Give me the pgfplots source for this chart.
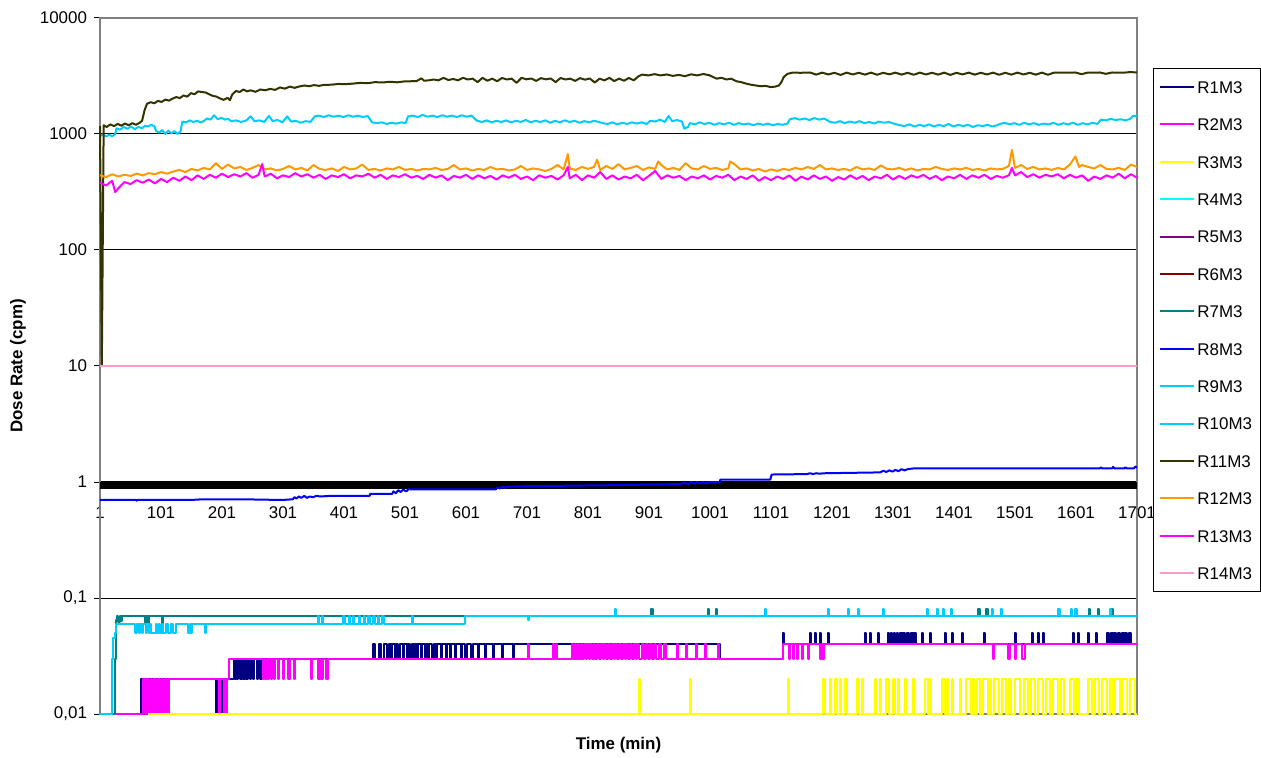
\documentclass[border=0pt]{standalone}
\usepackage{pgfplots}
\pgfplotsset{compat=1.18}
\usepackage{fontspec}
\setmainfont{Liberation Sans}

\definecolor{r1}{HTML}{000080}
\definecolor{r2}{HTML}{FF00FF}
\definecolor{r3}{HTML}{FFFF00}
\definecolor{r4}{HTML}{00FFFF}
\definecolor{r5}{HTML}{800080}
\definecolor{r6}{HTML}{800000}
\definecolor{r7}{HTML}{008080}
\definecolor{r8}{HTML}{0000FF}
\definecolor{r9}{HTML}{00CCFF}
\definecolor{r10}{HTML}{00CCFF}
\definecolor{r11}{HTML}{333300}
\definecolor{r12}{HTML}{FF9900}
\definecolor{r13}{HTML}{FF00FF}
\definecolor{r14}{HTML}{FF99CC}

\begin{document}
\begin{tikzpicture}
\path[use as bounding box] (-50bp,-22bp) rectangle (580.5bp,357bp);
\begin{axis}[
  at={(0,0)}, anchor=south west,
  scale only axis, width=518.5bp, height=348bp,
  ymode=log,
  xmin=1, xmax=1701, ymin=0.01, ymax=10000,
  clip=false,
  axis x line=middle, axis y line=left,
  axis line style={-, black, line width=0.8bp},
  hide obscured x ticks=false, hide obscured y ticks=false,
  xtick={1,101,201,301,401,501,601,701,801,901,1001,1101,1201,1301,1401,1501,1601,1701},
  xticklabels={1,101,201,301,401,501,601,701,801,901,1001,1101,1201,1301,1401,1501,1601,1701},
  xtick style={draw=none},
  xticklabel style={yshift=-6bp},
  ytick={0.01,0.1,1,10,100,1000,10000},
  yticklabels={{0,01},{0,1},1,10,100,1000,10000},
  yminorticks=false,
  tick align=outside, major tick length=3bp,
  ytick style={black, line width=0.5bp},
  tick label style={font=\fontsize{8.5}{10}\selectfont},
  ymajorgrids, major grid style={black, line width=0.5bp},
  xlabel={Time (min)}, ylabel={Dose Rate (cpm)},
  xlabel style={at={(axis description cs:0.5,-0.0445)}, anchor=center, font=\bfseries\fontsize{8.5}{10}\selectfont},
  ylabel style={at={(axis description cs:-0.079,0.5)}, anchor=center, font=\bfseries\fontsize{8.5}{10}\selectfont},
  every axis plot/.append style={line width=1bp, line join=round},
  legend image code/.code={\draw[#1, line width=1bp] (0bp,0bp) -- (17bp,0bp);},
  legend style={at={(1.0154,0.928)}, anchor=north west, draw=black, line width=0.5bp,
    font=\fontsize{8.5}{10}\selectfont, row sep=10.4bp, inner xsep=3bp, inner ysep=5bp,
    cells={anchor=west}, nodes={inner sep=1bp, text height=6.3bp, text depth=0pt}},
  legend entries={R1M3,R2M3,R3M3,R4M3,R5M3,R6M3,R7M3,R8M3,R9M3,R10M3,R11M3,R12M3,R13M3,R14M3},
]
\draw[gray, line width=0.6bp] (rel axis cs:0,0) rectangle (rel axis cs:1,1);
\fill[black] (axis cs:1,1) rectangle (axis cs:1701,0.87);

% R1M3
\addplot[r1, const plot] coordinates {
(1,0.01)(68,0.01)(69,0.02)(70,0.01)(71,0.02)(73,0.01)(74,0.02)(76,0.01)(77,0.02)
(190,0.02)(191,0.01)(193,0.02)(195,0.01)(196,0.02)(198,0.01)(200,0.02)(202,0.01)(203,0.02)
(219,0.02)(220,0.03)(222,0.02)(224,0.03)(226,0.02)(228,0.03)(231,0.02)(233,0.03)(236,0.02)(238,0.03)(241,0.02)(243,0.03)(247,0.02)(249,0.03)(252,0.02)(254,0.03)(258,0.02)(260,0.03)(264,0.02)(266,0.03)
(448,0.03)(449,0.04)(451,0.03)(458,0.03)(459,0.04)(461,0.03)(466,0.04)(470,0.04)(471,0.03)(474,0.04)(478,0.03)(480,0.04)(484,0.03)(486,0.04)(490,0.03)(492,0.04)(497,0.03)(499,0.04)(504,0.03)(506,0.04)(510,0.03)(512,0.04)(516,0.03)(518,0.04)(521,0.03)(523,0.04)(527,0.03)(529,0.04)(533,0.03)(535,0.04)(539,0.03)(541,0.04)(546,0.03)(548,0.04)(552,0.03)(554,0.04)(560,0.03)(562,0.04)(568,0.03)(570,0.04)(575,0.03)(577,0.04)(583,0.03)(585,0.04)(592,0.03)(594,0.04)(600,0.03)(602,0.04)(610,0.03)(612,0.04)(620,0.03)(622,0.04)(632,0.03)(634,0.04)(645,0.03)(647,0.04)(660,0.03)(662,0.04)(678,0.03)(680,0.04)(690,0.04)
(1016,0.04)(1018,0.03)(1119,0.03)(1121,0.05)(1123,0.04)
(1163,0.04)(1165,0.05)(1167,0.04)(1171,0.04)(1173,0.05)(1175,0.04)(1179,0.04)(1181,0.05)(1183,0.04)(1192,0.04)(1194,0.05)(1196,0.04)(1253,0.04)(1255,0.05)(1257,0.04)(1261,0.04)(1263,0.05)(1265,0.04)(1274,0.04)(1276,0.05)(1278,0.04)
(1291,0.04)(1293,0.05)(1295,0.04)(1297,0.05)(1299,0.04)(1302,0.05)(1304,0.04)(1307,0.05)(1310,0.04)(1313,0.05)(1315,0.04)(1318,0.05)(1321,0.04)(1324,0.05)(1327,0.04)(1330,0.05)(1333,0.04)(1336,0.05)(1339,0.04)
(1346,0.04)(1348,0.05)(1350,0.04)(1359,0.04)(1361,0.05)(1363,0.04)(1384,0.04)(1386,0.05)(1388,0.04)(1395,0.04)(1397,0.05)(1399,0.04)(1412,0.04)(1414,0.05)(1416,0.04)(1448,0.04)(1450,0.05)(1452,0.04)(1499,0.04)(1501,0.05)(1503,0.04)(1527,0.04)(1529,0.05)(1531,0.04)(1537,0.04)(1539,0.05)(1541,0.04)(1545,0.04)(1547,0.05)(1549,0.04)(1594,0.04)(1596,0.05)(1598,0.04)(1602,0.04)(1604,0.05)(1606,0.04)(1619,0.04)(1621,0.05)(1623,0.04)(1632,0.04)(1634,0.05)(1636,0.04)
(1650,0.04)(1652,0.05)(1655,0.04)(1658,0.05)(1661,0.04)(1664,0.05)(1667,0.04)(1670,0.05)(1673,0.04)(1676,0.05)(1679,0.04)(1682,0.05)(1685,0.04)(1688,0.05)(1691,0.04)(1701,0.04)
};
% R2M3
\addplot[r2, const plot] coordinates {
(1,0.01)(71,0.01)(72,0.02)(74,0.01)(76,0.02)(78,0.01)(80,0.02)(82,0.01)(85,0.02)(87,0.01)(90,0.02)(93,0.01)(96,0.02)(99,0.01)(102,0.02)(105,0.01)(108,0.02)(111,0.01)(114,0.02)(116,0.02)
(195,0.02)(196,0.01)(198,0.02)(203,0.02)(204,0.01)(206,0.02)(208,0.01)(210,0.02)(212,0.03)
(267,0.03)(268,0.02)(270,0.03)(272,0.02)(274,0.03)(276,0.02)(278,0.03)(281,0.02)(283,0.03)(286,0.02)(288,0.03)(292,0.02)(294,0.03)(300,0.03)(301,0.02)(303,0.03)(309,0.03)(310,0.02)(312,0.03)(318,0.03)(319,0.02)(321,0.03)(346,0.03)(347,0.02)(349,0.03)(358,0.03)(359,0.02)(361,0.03)(364,0.02)(366,0.03)(372,0.02)(374,0.03)
(702,0.03)(703,0.04)(705,0.03)(742,0.03)(743,0.04)(745,0.03)(748,0.04)(750,0.03)
(775,0.04)(777,0.03)(779,0.04)(781,0.03)(784,0.04)(786,0.03)(789,0.04)(791,0.03)(794,0.04)(797,0.03)(800,0.04)(802,0.03)(805,0.04)(808,0.03)(811,0.04)(813,0.03)(816,0.04)(819,0.03)(822,0.04)(825,0.03)(828,0.04)(831,0.03)(834,0.04)(837,0.03)(840,0.04)(843,0.03)(846,0.04)(849,0.03)(852,0.04)(855,0.03)(858,0.04)(861,0.03)(864,0.04)(867,0.03)(870,0.04)(873,0.03)(876,0.04)(879,0.03)(882,0.04)(885,0.03)(889,0.04)(892,0.03)(896,0.04)(899,0.03)(903,0.04)(906,0.03)(910,0.04)(913,0.03)(918,0.04)(921,0.03)(926,0.04)(929,0.03)
(946,0.03)(947,0.04)(949,0.03)(960,0.03)(961,0.04)(963,0.03)(977,0.03)(978,0.04)(980,0.03)(991,0.03)(992,0.04)(994,0.03)(1013,0.03)(1014,0.04)(1016,0.03)
(1119,0.03)(1121,0.04)(1129,0.04)(1130,0.03)(1132,0.04)(1136,0.04)(1137,0.03)(1139,0.04)(1143,0.04)(1144,0.03)(1146,0.04)(1151,0.04)(1152,0.03)(1154,0.04)(1160,0.04)(1161,0.03)(1163,0.04)(1181,0.04)(1182,0.03)(1184,0.04)(1186,0.03)(1188,0.04)
(1464,0.04)(1465,0.03)(1467,0.04)(1489,0.04)(1490,0.03)(1492,0.04)(1500,0.04)(1501,0.03)(1503,0.04)(1511,0.04)(1512,0.03)(1516,0.03)(1517,0.04)(1701,0.04)
};
% R3M3
\addplot[r3, const plot] coordinates {
(80,0.01)(884,0.01)(885,0.02)(887,0.01)(967,0.01)(968,0.02)(970,0.01)(1128,0.01)(1129,0.02)(1131,0.01)
(1185,0.01)(1186,0.02)(1189,0.02)(1190,0.01)(1197,0.01)(1198,0.02)(1200,0.01)(1205,0.01)(1206,0.02)(1209,0.02)(1210,0.01)(1213,0.01)(1214,0.02)(1216,0.01)(1221,0.01)(1222,0.02)(1225,0.02)(1226,0.01)(1241,0.01)(1242,0.02)(1245,0.02)(1246,0.01)(1249,0.01)(1250,0.02)(1252,0.01)(1270,0.01)(1271,0.02)(1273,0.01)(1279,0.01)(1280,0.02)(1282,0.01)(1289,0.01)(1290,0.02)(1294,0.02)(1295,0.01)(1300,0.01)(1301,0.02)(1304,0.02)(1305,0.01)(1308,0.01)(1309,0.02)(1311,0.01)(1319,0.01)(1320,0.02)(1322,0.01)(1333,0.01)(1334,0.02)(1336,0.01)(1352,0.01)(1353,0.02)(1358,0.02)(1359,0.01)(1361,0.01)(1362,0.02)(1364,0.01)(1380,0.01)(1381,0.02)(1385,0.02)(1386,0.01)(1388,0.01)(1389,0.02)(1391,0.01)(1397,0.01)(1398,0.02)(1400,0.01)(1410,0.01)(1411,0.02)(1413,0.01)(1420,0.01)(1421,0.02)(1428,0.02)(1429,0.01)(1431,0.01)(1432,0.02)(1434,0.01)(1437,0.01)(1438,0.02)(1442,0.02)(1443,0.01)(1447,0.01)(1448,0.02)(1455,0.02)(1456,0.01)(1459,0.01)(1460,0.02)(1462,0.01)(1466,0.01)(1467,0.02)(1474,0.02)(1475,0.01)(1479,0.01)(1480,0.02)(1486,0.02)(1487,0.01)(1490,0.01)(1491,0.02)(1494,0.02)(1495,0.01)(1500,0.01)(1501,0.02)(1508,0.02)(1509,0.01)(1514,0.01)(1515,0.02)(1522,0.02)(1523,0.01)(1526,0.01)(1527,0.02)(1533,0.02)(1534,0.01)(1538,0.01)(1539,0.02)(1546,0.02)(1547,0.01)(1551,0.01)(1552,0.02)(1557,0.02)(1558,0.01)(1563,0.01)(1564,0.02)(1570,0.02)(1571,0.01)(1576,0.01)(1577,0.02)(1581,0.02)(1582,0.01)(1590,0.01)(1591,0.02)(1596,0.02)(1597,0.01)(1600,0.01)(1601,0.02)(1605,0.02)(1606,0.01)(1619,0.01)(1620,0.02)(1627,0.02)(1628,0.01)(1631,0.01)(1632,0.02)(1637,0.02)(1638,0.01)(1642,0.01)(1643,0.02)(1650,0.02)(1651,0.01)(1655,0.01)(1656,0.02)(1660,0.02)(1661,0.01)(1664,0.01)(1665,0.02)(1672,0.02)(1673,0.01)(1676,0.01)(1677,0.02)(1684,0.02)(1685,0.01)(1688,0.01)(1689,0.02)(1697,0.02)(1698,0.01)(1701,0.01)
};
% R4M3, R5M3, R6M3
\addplot[r4] coordinates {(1,10)(1701,10)};
\addplot[r5] coordinates {(1,10)(1701,10)};
\addplot[r6] coordinates {(1,10)(1701,10)};
% R7M3
\addplot[r7, const plot] coordinates {
(1,0.01)(24,0.01)(26,0.03)(28,0.065)(29,0.07)(31,0.062)(33,0.07)(35,0.063)(37,0.07)(74,0.07)(75,0.06)(77,0.07)(79,0.07)(80,0.06)(82,0.07)(102,0.07)(103,0.06)(105,0.07)
(904,0.07)(905,0.08)(907,0.07)(996,0.07)(997,0.08)(999,0.07)(1010,0.07)(1011,0.08)(1013,0.07)(1440,0.07)(1441,0.08)(1443,0.07)(1453,0.07)(1454,0.08)(1456,0.07)(1621,0.07)(1622,0.08)(1624,0.07)(1636,0.07)(1637,0.08)(1639,0.07)(1658,0.07)(1659,0.08)(1661,0.07)(1701,0.07)
};
% R8M3
\addplot[r8] coordinates {
(1,0.70)(60,0.70)(61,0.69)(62,0.70)(150,0.70)(170,0.71)(230,0.71)(300,0.70)(317,0.71)(320,0.74)(323,0.72)(327,0.75)(331,0.73)(336,0.76)(340,0.73)(345,0.75)(350,0.74)(356,0.76)(362,0.75)(380,0.76)(443,0.76)(444,0.79)(480,0.79)(482,0.83)(486,0.80)(490,0.85)(494,0.82)(498,0.86)(503,0.83)(507,0.87)(510,0.865)(650,0.865)(652,0.90)(656,0.88)(660,0.91)(665,0.89)(668,0.91)(700,0.92)(850,0.94)(950,0.96)(960,0.98)(965,0.96)(970,1.0)(975,0.97)(980,1.0)(985,0.97)(990,1.0)(995,0.97)(1000,1.0)(1017,1.0)(1018,1.05)(1100,1.05)(1102,1.16)(1160,1.17)(1165,1.19)(1170,1.17)(1175,1.19)(1180,1.18)(1190,1.19)(1280,1.21)(1285,1.25)(1290,1.22)(1295,1.26)(1300,1.23)(1305,1.27)(1310,1.24)(1315,1.29)(1320,1.26)(1325,1.29)(1335,1.31)(1640,1.31)(1642,1.34)(1644,1.31)(1660,1.31)(1662,1.35)(1664,1.31)(1680,1.31)(1682,1.34)(1684,1.31)(1696,1.31)(1698,1.36)(1701,1.33)
};
% R9M3
\addplot[r9] coordinates {
(1,960)(6,990)(11,950)(16,985)(21,955)(26,1000)(28,1120)(34,1090)(40,1150)(46,1110)(52,1160)(58,1100)(64,1150)(70,1120)(75,1180)(80,1160)(85,1200)(90,1170)(93,1060)(98,1030)(103,1080)(108,1000)(113,1070)(118,1010)(123,1060)(128,1000)(133,1050)(136,1280)(142,1260)(148,1310)(154,1270)(160,1300)(166,1260)(172,1300)(176,1360)(182,1330)(188,1450)(194,1340)(200,1380)(206,1330)(211,1350)(216,1290)(224,1310)(232,1270)(240,1300)(248,1420)(254,1290)(262,1310)(270,1270)(278,1430)(284,1290)(292,1320)(300,1260)(308,1420)(314,1280)(322,1300)(330,1250)(338,1290)(346,1270)(353,1420)(360,1440)(368,1400)(376,1450)(384,1410)(392,1440)(400,1400)(408,1450)(416,1410)(424,1440)(432,1400)(440,1430)(447,1260)(455,1240)(463,1260)(471,1220)(479,1250)(487,1230)(495,1260)(502,1240)(506,1420)(514,1440)(522,1400)(530,1460)(538,1410)(546,1440)(554,1400)(562,1450)(570,1410)(578,1440)(586,1400)(594,1450)(602,1410)(610,1440)(619,1300)(627,1270)(635,1310)(643,1260)(651,1300)(659,1270)(667,1310)(675,1260)(683,1300)(691,1270)(699,1320)(707,1260)(715,1300)(723,1270)(731,1310)(739,1250)(747,1300)(755,1260)(763,1310)(771,1270)(779,1300)(787,1250)(795,1290)(803,1260)(811,1300)(819,1270)(825,1240)(833,1220)(841,1260)(849,1210)(857,1250)(865,1220)(873,1260)(881,1230)(889,1260)(897,1220)(903,1300)(911,1280)(919,1330)(927,1270)(933,1430)(939,1290)(947,1320)(955,1280)(959,1110)(965,1150)(968,1240)(976,1210)(984,1260)(992,1220)(1000,1250)(1008,1200)(1016,1240)(1024,1210)(1032,1250)(1040,1200)(1048,1240)(1056,1210)(1064,1230)(1072,1190)(1080,1230)(1088,1200)(1096,1230)(1104,1190)(1112,1220)(1120,1200)(1128,1230)(1132,1340)(1140,1370)(1148,1330)(1156,1360)(1164,1320)(1172,1370)(1180,1330)(1188,1360)(1198,1270)(1206,1250)(1214,1290)(1222,1240)(1230,1280)(1238,1250)(1246,1290)(1254,1240)(1262,1270)(1270,1230)(1278,1280)(1286,1250)(1294,1270)(1302,1230)(1312,1190)(1320,1170)(1328,1210)(1336,1160)(1344,1200)(1352,1170)(1360,1210)(1368,1160)(1376,1200)(1384,1170)(1392,1220)(1400,1160)(1408,1200)(1416,1170)(1424,1200)(1432,1150)(1440,1190)(1448,1170)(1456,1200)(1464,1160)(1472,1190)(1476,1220)(1484,1250)(1492,1210)(1500,1240)(1508,1200)(1516,1250)(1524,1210)(1532,1240)(1540,1200)(1548,1230)(1556,1210)(1564,1250)(1572,1200)(1580,1240)(1588,1210)(1596,1250)(1604,1200)(1612,1240)(1620,1210)(1628,1250)(1636,1220)(1642,1330)(1650,1310)(1658,1350)(1666,1320)(1674,1340)(1682,1310)(1690,1350)(1694,1430)(1701,1440)
};
% R10M3
\addplot[r10, const plot] coordinates {
(1,0.01)(18,0.01)(20,0.03)(22,0.045)(25,0.05)(28,0.06)(58,0.06)(59,0.05)(61,0.06)(64,0.06)(65,0.05)(67,0.06)(70,0.05)(72,0.06)(76,0.05)(78,0.06)(81,0.05)(83,0.06)(85,0.05)(90,0.05)(92,0.06)(94,0.05)(97,0.06)(100,0.05)(102,0.06)(104,0.05)(108,0.05)(110,0.06)(112,0.05)(116,0.05)(118,0.06)(120,0.05)(124,0.05)(126,0.06)(145,0.06)(146,0.05)(148,0.06)(150,0.05)(152,0.06)(172,0.06)(173,0.05)(175,0.06)
(357,0.06)(358,0.07)(360,0.06)(364,0.06)(365,0.07)(367,0.06)(399,0.06)(400,0.07)(402,0.06)(408,0.06)(409,0.07)(411,0.06)(415,0.06)(416,0.07)(418,0.06)(424,0.06)(425,0.07)(427,0.06)(432,0.06)(433,0.07)(435,0.06)(440,0.06)(441,0.07)(443,0.06)(448,0.06)(449,0.07)(451,0.06)(456,0.06)(457,0.07)(459,0.06)(463,0.06)(464,0.07)(466,0.06)(511,0.06)(512,0.07)(514,0.06)(598,0.06)(600,0.07)
(702,0.07)(703,0.065)(705,0.07)(844,0.07)(845,0.08)(847,0.07)(1090,0.07)(1091,0.08)(1093,0.07)(1193,0.07)(1194,0.08)(1196,0.07)(1226,0.07)(1227,0.08)(1229,0.07)(1242,0.07)(1243,0.08)(1245,0.07)(1284,0.07)(1285,0.08)(1287,0.07)(1356,0.07)(1357,0.08)(1359,0.07)(1372,0.07)(1373,0.08)(1375,0.07)(1382,0.07)(1383,0.08)(1385,0.07)(1395,0.07)(1396,0.08)(1398,0.07)(1462,0.07)(1463,0.08)(1465,0.07)(1477,0.07)(1478,0.08)(1480,0.07)(1571,0.07)(1572,0.08)(1574,0.07)(1592,0.07)(1593,0.08)(1595,0.07)(1599,0.07)(1600,0.08)(1602,0.07)(1655,0.07)(1656,0.08)(1658,0.07)(1701,0.07)
};
% R11M3
\addplot[r11] coordinates {
(1,1170)(4,10)(7,1190)(12,1150)(18,1210)(24,1170)(30,1220)(36,1180)(42,1230)(48,1190)(54,1240)(60,1200)(66,1250)(70,1300)(74,1600)(78,1820)(84,1880)(90,1840)(96,1930)(102,1890)(108,1980)(114,1940)(120,2020)(126,2080)(132,2040)(138,2150)(144,2100)(150,2250)(156,2200)(162,2330)(168,2300)(174,2280)(180,2200)(186,2130)(192,2100)(198,2020)(204,1970)(210,2050)(214,1960)(218,2200)(224,2350)(230,2300)(236,2420)(242,2330)(248,2380)(256,2310)(264,2420)(272,2380)(280,2450)(288,2400)(296,2520)(304,2460)(312,2560)(320,2500)(328,2570)(336,2620)(344,2580)(352,2640)(360,2600)(368,2650)(380,2660)(392,2700)(404,2690)(416,2720)(428,2760)(440,2740)(452,2800)(464,2780)(476,2820)(488,2790)(500,2840)(512,2850)(520,2860)(528,3020)(532,2880)(540,2900)(548,2950)(556,2900)(564,3050)(572,2920)(580,2980)(588,2900)(596,3050)(604,2950)(612,3000)(620,2800)(628,3050)(636,2880)(644,3000)(652,2850)(660,3040)(668,2950)(676,3000)(684,2760)(692,3050)(700,2960)(708,3010)(716,2870)(724,3030)(732,2960)(740,3010)(748,2800)(756,3040)(764,2950)(772,3000)(780,2870)(788,3030)(796,2940)(804,3010)(812,2780)(820,3000)(828,2900)(836,3050)(844,2860)(852,3000)(860,2880)(868,3040)(876,2900)(884,3150)(890,3250)(900,3200)(910,3280)(920,3200)(930,3260)(940,3170)(950,3230)(960,3150)(970,3270)(980,3200)(990,3290)(1000,3210)(1006,3100)(1012,3000)(1020,3050)(1028,2950)(1036,3000)(1044,2850)(1052,2800)(1060,2720)(1068,2660)(1076,2620)(1084,2580)(1092,2600)(1100,2540)(1108,2560)(1114,2620)(1118,2800)(1122,3100)(1128,3300)(1136,3380)(1150,3370)(1165,3390)(1175,3250)(1185,3380)(1195,3260)(1205,3370)(1215,3230)(1225,3380)(1235,3260)(1245,3370)(1255,3250)(1265,3380)(1275,3240)(1285,3370)(1295,3270)(1305,3380)(1315,3250)(1325,3370)(1335,3240)(1345,3380)(1355,3260)(1365,3370)(1375,3250)(1385,3380)(1395,3230)(1405,3370)(1415,3260)(1425,3380)(1435,3250)(1445,3370)(1455,3260)(1465,3380)(1475,3240)(1485,3370)(1495,3250)(1505,3380)(1515,3260)(1525,3370)(1535,3250)(1545,3380)(1555,3240)(1565,3380)(1580,3380)(1600,3390)(1610,3280)(1620,3380)(1640,3390)(1650,3300)(1660,3390)(1680,3380)(1690,3420)(1701,3390)
};
% R12M3
\addplot[r12] coordinates {
(1,440)(11,425)(21,450)(31,430)(41,445)(51,435)(61,455)(71,440)(81,460)(91,450)(101,470)(111,455)(121,475)(131,490)(141,470)(151,500)(161,485)(171,510)(181,495)(191,560)(201,500)(211,545)(221,505)(231,520)(241,490)(251,510)(261,540)(271,495)(281,505)(291,485)(301,500)(311,530)(321,495)(331,510)(341,485)(351,540)(361,500)(371,490)(381,505)(391,480)(401,520)(411,495)(421,505)(431,545)(441,490)(451,500)(461,485)(471,505)(481,495)(491,520)(501,490)(511,500)(521,485)(531,500)(541,495)(551,510)(561,490)(571,500)(581,540)(591,495)(601,505)(611,485)(621,500)(631,490)(641,520)(651,495)(661,500)(671,485)(681,495)(691,530)(701,490)(711,505)(721,495)(731,480)(741,500)(751,540)(761,495)(768,670)(771,505)(781,490)(791,520)(801,500)(811,520)(816,600)(821,490)(831,530)(841,500)(851,550)(861,495)(871,510)(881,530)(891,490)(901,515)(911,500)(916,580)(921,540)(931,495)(941,510)(951,490)(961,560)(971,505)(981,495)(991,530)(1001,500)(1011,510)(1021,490)(1031,505)(1034,580)(1041,550)(1051,495)(1061,505)(1071,485)(1081,500)(1091,475)(1101,495)(1111,480)(1121,500)(1131,490)(1141,510)(1151,495)(1161,520)(1171,500)(1181,540)(1191,495)(1201,505)(1211,490)(1221,500)(1231,485)(1241,520)(1251,495)(1261,505)(1271,490)(1281,535)(1291,500)(1301,495)(1311,510)(1321,490)(1331,505)(1341,485)(1351,500)(1361,495)(1371,520)(1381,500)(1391,490)(1401,505)(1411,495)(1421,510)(1431,490)(1441,500)(1451,485)(1461,505)(1471,495)(1481,500)(1491,530)(1496,730)(1501,510)(1511,540)(1521,500)(1531,520)(1541,495)(1551,505)(1561,490)(1571,510)(1581,495)(1591,545)(1600,640)(1606,520)(1611,540)(1621,520)(1631,505)(1641,540)(1651,500)(1661,495)(1671,510)(1681,490)(1691,545)(1701,520)
};
% R13M3
\addplot[r13] coordinates {
(1,380)(11,360)(21,395)(26,315)(31,340)(41,385)(51,370)(61,400)(71,380)(81,405)(91,375)(101,410)(111,385)(121,420)(131,395)(141,430)(151,400)(161,440)(171,410)(181,445)(191,420)(201,455)(211,425)(221,450)(231,430)(241,460)(251,420)(261,445)(267,550)(271,430)(281,455)(291,415)(301,440)(311,425)(321,460)(331,430)(341,450)(351,420)(361,445)(371,410)(381,440)(391,425)(401,450)(411,415)(421,440)(431,430)(441,455)(451,420)(461,445)(471,410)(481,440)(491,425)(501,450)(511,420)(521,435)(531,410)(541,445)(551,420)(561,440)(571,400)(581,435)(591,420)(601,445)(611,410)(621,440)(631,415)(641,435)(651,405)(661,440)(671,420)(681,445)(691,410)(701,430)(711,400)(721,440)(731,420)(741,435)(751,405)(761,440)(768,520)(771,415)(781,445)(791,400)(801,440)(811,420)(821,470)(831,410)(841,440)(851,405)(861,430)(871,415)(881,445)(891,400)(901,435)(911,480)(921,410)(931,440)(941,420)(951,435)(961,400)(971,430)(981,415)(991,440)(1001,405)(1011,435)(1021,420)(1031,445)(1041,400)(1051,430)(1061,410)(1071,440)(1081,395)(1091,425)(1101,400)(1111,430)(1121,410)(1131,440)(1141,395)(1151,430)(1161,405)(1171,440)(1181,410)(1191,430)(1201,395)(1211,425)(1221,405)(1231,440)(1241,410)(1251,435)(1261,400)(1271,430)(1281,415)(1291,445)(1301,405)(1311,435)(1321,410)(1331,440)(1341,420)(1351,445)(1361,410)(1371,435)(1381,400)(1391,430)(1401,415)(1411,445)(1421,410)(1431,440)(1441,420)(1451,445)(1461,410)(1471,435)(1481,420)(1491,440)(1496,510)(1501,440)(1511,470)(1521,425)(1531,450)(1541,420)(1551,445)(1561,430)(1571,450)(1581,415)(1591,445)(1601,420)(1611,440)(1621,395)(1631,430)(1641,410)(1651,440)(1661,420)(1671,455)(1681,415)(1691,450)(1701,420)
};
% R14M3
\addplot[r14] coordinates {(1,10)(1701,10)};
\end{axis}
\end{tikzpicture}
\end{document}
